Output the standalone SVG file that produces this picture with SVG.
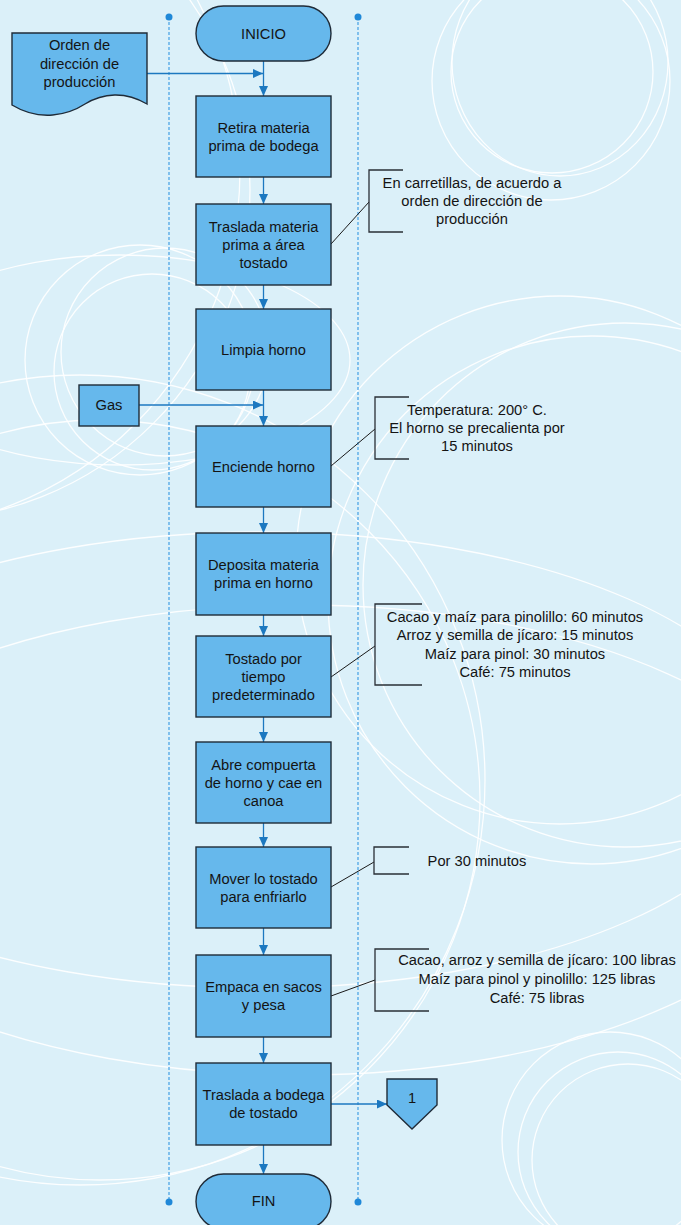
<svg xmlns="http://www.w3.org/2000/svg" width="681" height="1225" viewBox="0 0 681 1225">
  <defs>
    <marker id="arrow" markerUnits="userSpaceOnUse" markerWidth="10" markerHeight="10" refX="10" refY="4.5" orient="auto">
      <path d="M0,0 L10,4.5 L0,9 z" fill="#1c78c0"/>
    </marker>
    <style>
      .bg { fill: #dbf0f9; }
      .ring { fill: none; stroke: #ffffff; stroke-width: 1.3; opacity: 0.9; }
      .node { fill: #66b8ec; stroke: #1f2b38; stroke-width: 1.4; }
      .txt { font-family: "Liberation Sans", Arial, sans-serif; font-size: 14.7px; fill: #141414; text-anchor: middle; }
      .flow { fill: none; stroke: #1c78c0; stroke-width: 1.3; marker-end: url(#arrow); }
      .lane { fill: none; stroke: #4fa6e6; stroke-width: 1.3; stroke-dasharray: 3 2; }
      .dot { fill: #1f88d8; }
      .note { fill: none; stroke: #2a2f36; stroke-width: 1.3; }
      .lead { fill: none; stroke: #1a1a1a; stroke-width: 1; }
    </style>
  </defs>

  <!-- background -->
  <rect class="bg" x="0" y="0" width="681" height="1225"/>
  <g id="background-rings">
    <!-- top-right cluster -->
    <circle class="ring" cx="551" cy="81" r="119"/>
    <circle class="ring" cx="552" cy="72" r="101"/>
    <ellipse class="ring" cx="560" cy="62" rx="108" ry="114"/>
    <!-- top-left sweeping arcs -->
    <circle class="ring" cx="-120" cy="170" r="360"/>
    <circle class="ring" cx="-80" cy="190" r="330"/>
    <!-- left cluster behind Gas -->
    <circle class="ring" cx="140" cy="360" r="115"/>
    <circle class="ring" cx="165" cy="352" r="104"/>
    <circle class="ring" cx="152" cy="372" r="98"/>
    <ellipse class="ring" cx="120" cy="360" rx="230" ry="105"/>
    <!-- large right-middle rings -->
    <circle class="ring" cx="560" cy="560" r="264"/>
    <circle class="ring" cx="592" cy="600" r="264"/>
    <circle class="ring" cx="625" cy="585" r="262"/>
    <!-- wide arcs across the middle -->
    <ellipse class="ring" cx="260" cy="760" rx="520" ry="228"/>
    <ellipse class="ring" cx="300" cy="840" rx="520" ry="235"/>
    <!-- bottom-left sweep -->
    <circle class="ring" cx="100" cy="800" r="380"/>
    <circle class="ring" cx="80" cy="780" r="405"/>
    <!-- bottom-right cluster -->
    <circle class="ring" cx="610" cy="1140" r="108"/>
    <circle class="ring" cx="618" cy="1152" r="100"/>
    <circle class="ring" cx="628" cy="1160" r="96"/>
  </g>

  <!-- swimlane guides -->
  <g id="lanes">
    <line class="lane" x1="169" y1="17" x2="169" y2="1202"/>
    <line class="lane" x1="358" y1="17" x2="358" y2="1202"/>
    <circle class="dot" cx="169" cy="17" r="3.5"/>
    <circle class="dot" cx="169" cy="1202" r="3.5"/>
    <circle class="dot" cx="358" cy="17" r="3.5"/>
    <circle class="dot" cx="358" cy="1202" r="3.5"/>
  </g>

  <!-- connectors -->
  <g id="connectors">
    <line class="flow" x1="263.5" y1="61" x2="263.5" y2="96"/>
    <line class="flow" x1="147" y1="73.5" x2="263" y2="73.5"/>
    <line class="flow" x1="263.5" y1="177" x2="263.5" y2="204"/>
    <line class="flow" x1="263.5" y1="285" x2="263.5" y2="309"/>
    <line class="flow" x1="263.5" y1="390" x2="263.5" y2="426"/>
    <line class="flow" x1="139" y1="405" x2="263" y2="405"/>
    <line class="flow" x1="263.5" y1="507" x2="263.5" y2="533"/>
    <line class="flow" x1="263.5" y1="615" x2="263.5" y2="636"/>
    <line class="flow" x1="263.5" y1="717" x2="263.5" y2="742"/>
    <line class="flow" x1="263.5" y1="823" x2="263.5" y2="847"/>
    <line class="flow" x1="263.5" y1="928" x2="263.5" y2="955"/>
    <line class="flow" x1="263.5" y1="1037" x2="263.5" y2="1063"/>
    <line class="flow" x1="263.5" y1="1145" x2="263.5" y2="1174"/>
    <line class="flow" x1="331" y1="1104" x2="387" y2="1104"/>
    <!-- annotation leaders -->
    <line class="lead" x1="331" y1="244" x2="369" y2="202"/>
    <line class="lead" x1="331" y1="466" x2="375" y2="429"/>
    <line class="lead" x1="331" y1="677" x2="375" y2="646"/>
    <line class="lead" x1="331" y1="887" x2="374" y2="862"/>
    <line class="lead" x1="331" y1="996" x2="375" y2="980"/>
  </g>

  <!-- nodes -->
  <g id="inicio">
    <rect class="node" x="196" y="6" width="135" height="55" rx="27.5" ry="27.5"/>
    <text class="txt" x="263.5" y="38.5">INICIO</text>
  </g>

  <g id="orden">
    <path class="node" d="M12,33 H147 V104 C125,91 103,93 85,104 C68,115 40,122 12,105 Z"/>
    <text class="txt" x="79.5" y="50">Orden de</text>
    <text class="txt" x="79.5" y="69">dirección de</text>
    <text class="txt" x="79.5" y="87">producción</text>
  </g>

  <g id="retira">
    <rect class="node" x="196" y="96" width="135" height="81"/>
    <text class="txt" x="263.5" y="132.5">Retira materia</text>
    <text class="txt" x="263.5" y="150.5">prima de bodega</text>
  </g>

  <g id="traslada">
    <rect class="node" x="196" y="204" width="135" height="81"/>
    <text class="txt" x="263.5" y="231.5">Traslada materia</text>
    <text class="txt" x="263.5" y="249.5">prima a área</text>
    <text class="txt" x="263.5" y="267.5">tostado</text>
  </g>

  <g id="nota-carretillas">
    <path class="note" d="M403,170 H369 V232 H403"/>
    <text class="txt" x="472" y="188">En carretillas, de acuerdo a</text>
    <text class="txt" x="472" y="206">orden de dirección de</text>
    <text class="txt" x="472" y="224">producción</text>
  </g>

  <g id="limpia">
    <rect class="node" x="196" y="309" width="135" height="81"/>
    <text class="txt" x="263.5" y="354.5">Limpia horno</text>
  </g>

  <g id="gas">
    <rect class="node" x="79" y="385" width="60" height="41"/>
    <text class="txt" x="109" y="410">Gas</text>
  </g>

  <g id="enciende">
    <rect class="node" x="196" y="426" width="135" height="81"/>
    <text class="txt" x="263.5" y="471.5">Enciende horno</text>
  </g>

  <g id="nota-temperatura">
    <path class="note" d="M409,397 H375 V459 H409"/>
    <text class="txt" x="477" y="415">Temperatura: 200° C.</text>
    <text class="txt" x="477" y="433">El horno se precalienta por</text>
    <text class="txt" x="477" y="451">15 minutos</text>
  </g>

  <g id="deposita">
    <rect class="node" x="196" y="533" width="135" height="82"/>
    <text class="txt" x="263.5" y="570">Deposita materia</text>
    <text class="txt" x="263.5" y="588">prima en horno</text>
  </g>

  <g id="tostado">
    <rect class="node" x="196" y="636" width="135" height="81"/>
    <text class="txt" x="263.5" y="663.5">Tostado por</text>
    <text class="txt" x="263.5" y="681.5">tiempo</text>
    <text class="txt" x="263.5" y="699.5">predeterminado</text>
  </g>

  <g id="nota-tiempos">
    <path class="note" d="M422,604 H375 V685 H422"/>
    <text class="txt" x="515" y="622">Cacao y maíz para pinolillo: 60 minutos</text>
    <text class="txt" x="515" y="640">Arroz y semilla de jícaro: 15 minutos</text>
    <text class="txt" x="515" y="659">Maíz para pinol: 30 minutos</text>
    <text class="txt" x="515" y="677">Café: 75 minutos</text>
  </g>

  <g id="abre">
    <rect class="node" x="196" y="742" width="135" height="81"/>
    <text class="txt" x="263.5" y="769.5">Abre compuerta</text>
    <text class="txt" x="263.5" y="787.5">de horno y cae en</text>
    <text class="txt" x="263.5" y="805.5">canoa</text>
  </g>

  <g id="mover">
    <rect class="node" x="196" y="847" width="135" height="81"/>
    <text class="txt" x="263.5" y="883.5">Mover lo tostado</text>
    <text class="txt" x="263.5" y="901.5">para enfriarlo</text>
  </g>

  <g id="nota-enfriado">
    <path class="note" d="M409,847 H374 V874 H409"/>
    <text class="txt" x="477" y="866">Por 30 minutos</text>
  </g>

  <g id="empaca">
    <rect class="node" x="196" y="955" width="135" height="82"/>
    <text class="txt" x="263.5" y="992">Empaca en sacos</text>
    <text class="txt" x="263.5" y="1010">y pesa</text>
  </g>

  <g id="nota-pesos">
    <path class="note" d="M429,949 H375 V1011 H429"/>
    <text class="txt" x="537" y="965">Cacao, arroz y semilla de jícaro: 100 libras</text>
    <text class="txt" x="537" y="984">Maíz para pinol y pinolillo: 125 libras</text>
    <text class="txt" x="537" y="1003">Café: 75 libras</text>
  </g>

  <g id="traslada-bodega">
    <rect class="node" x="196" y="1063" width="135" height="82"/>
    <text class="txt" x="263.5" y="1100">Traslada a bodega</text>
    <text class="txt" x="263.5" y="1118">de tostado</text>
  </g>

  <g id="conector-1">
    <path class="node" d="M387,1079 H437 V1105 L412,1129 L387,1105 Z"/>
    <text class="txt" x="412" y="1103">1</text>
  </g>

  <g id="fin">
    <rect class="node" x="196" y="1174" width="135" height="55" rx="27.5" ry="27.5"/>
    <text class="txt" x="263.5" y="1206">FIN</text>
  </g>
</svg>
